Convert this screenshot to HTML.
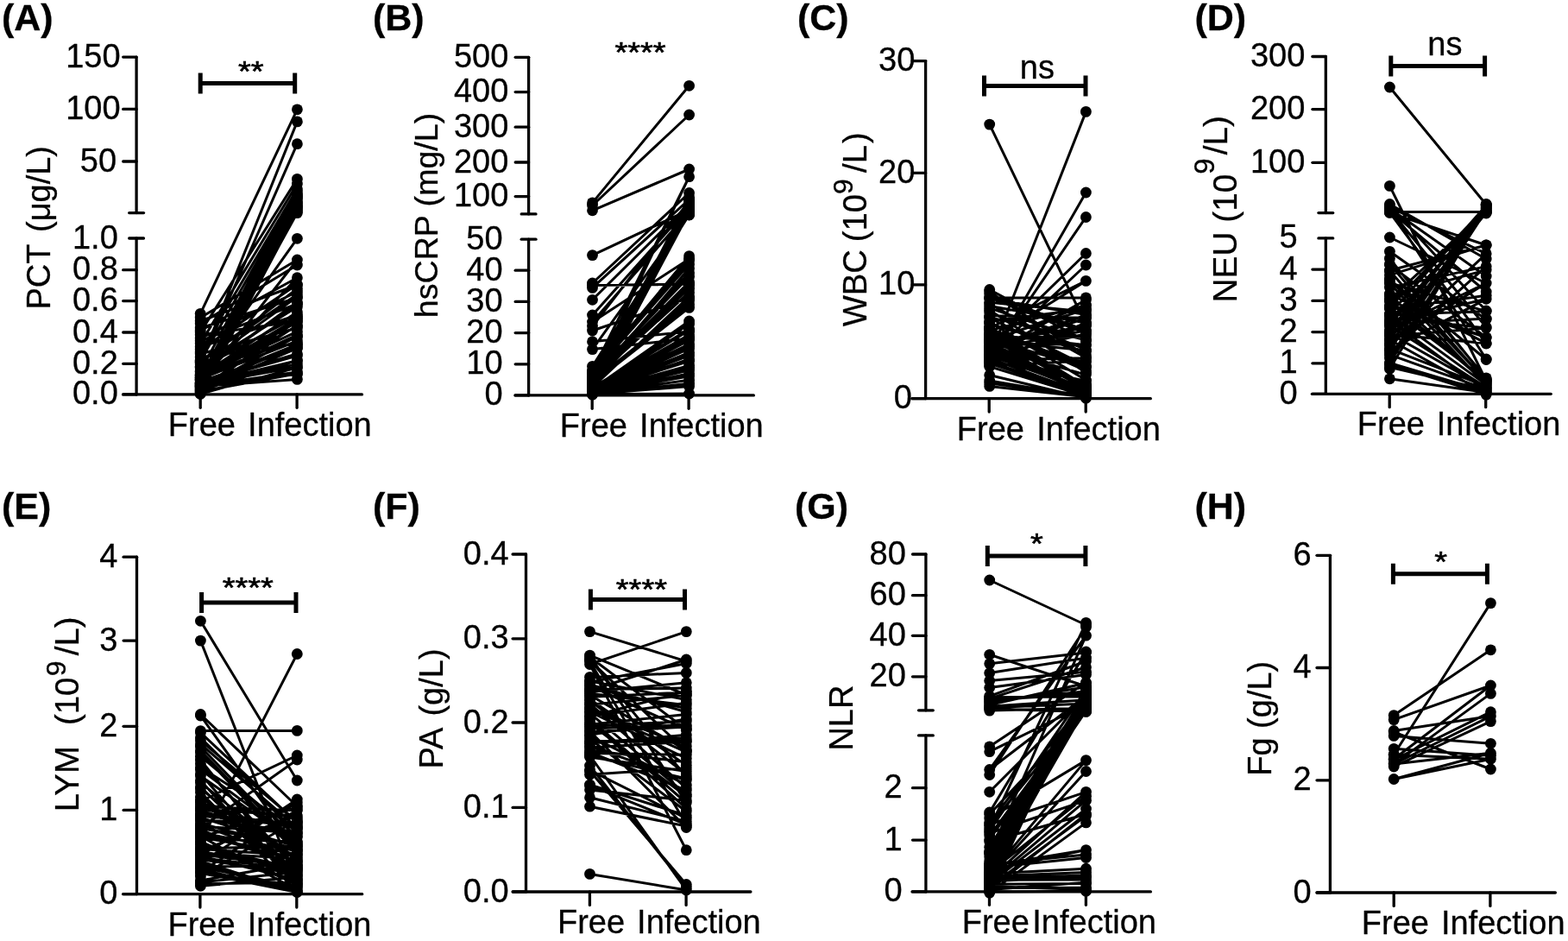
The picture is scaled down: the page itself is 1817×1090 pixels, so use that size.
<!DOCTYPE html>
<html lang="en"><head><meta charset="utf-8"><title>Paired comparison of inflammatory markers: Free vs Infection</title>
<style>
html,body{margin:0;padding:0;background:#fff;}
svg{display:block;font-family:"Liberation Sans",Arial,Helvetica,sans-serif;font-size:38px;}
svg text{fill:#000;stroke:#000;stroke-width:0.3px;}
svg line, svg path{stroke:#000;fill:none;}
.ax line{stroke-width:3.3;stroke-linecap:round;}
.sb{stroke-width:5;stroke-linecap:butt;}
.st{stroke:#000;stroke-width:0.7;}
.d path{stroke-width:3.0;stroke-linecap:round;}
svg circle{fill:#000;}
</style></head>
<body>
<svg width="1817" height="1090" viewBox="0 0 1817 1090">
<rect width="1817" height="1090" fill="#fff"/>
<g id="panelA">
<text class="yt" transform="translate(58,263.8) rotate(-90)" font-size="38" text-anchor="middle" xml:space="preserve" word-spacing="3.7">PCT (μg/L)</text>
<text x="2" y="35" font-size="43" font-weight="bold">(A)</text>
<g class="ax">
<line x1="158.1" y1="66.1" x2="158.1" y2="246.6"/>
<line x1="142.7" y1="66.1" x2="158.1" y2="66.1"/>
<line x1="142.7" y1="126.4" x2="158.1" y2="126.4"/>
<line x1="142.7" y1="187" x2="158.1" y2="187"/>
<line x1="149.7" y1="246.6" x2="166.5" y2="246.6"/>
<line x1="158.1" y1="276" x2="158.1" y2="456.9"/>
<line x1="142.7" y1="312.7" x2="158.1" y2="312.7"/>
<line x1="142.7" y1="348.6" x2="158.1" y2="348.6"/>
<line x1="142.7" y1="385" x2="158.1" y2="385"/>
<line x1="142.7" y1="421.3" x2="158.1" y2="421.3"/>
<line x1="142.7" y1="456.9" x2="158.1" y2="456.9"/>
<line x1="149.7" y1="276" x2="166.5" y2="276"/>
<line x1="142.6" y1="456.9" x2="419.5" y2="456.9"/>
<line x1="232.2" y1="456.9" x2="232.2" y2="472.3"/>
<line x1="344.1" y1="456.9" x2="344.1" y2="472.3"/>
</g>
<g class="tl" text-anchor="end">
<text x="139.6" y="77.6">150</text>
<text x="139.6" y="137.9">100</text>
<text x="135.1" y="198.5">50</text>
<text x="136.8" y="287.5">1.0</text>
<text x="136.8" y="324.2">0.8</text>
<text x="136.8" y="360.1">0.6</text>
<text x="136.8" y="396.5">0.4</text>
<text x="136.8" y="432.8">0.2</text>
<text x="136.8" y="468.4">0.0</text>
</g>
<g class="xl">
<text x="194.8" y="505">Free</text>
<text x="287.1" y="505">Infection</text>
</g>
<path class="sb" d="M232.2 84.4V108.4M232.2 96.4H341.7M341.7 84.4V108.4"/>
<text class="st" transform="translate(290.7,94.4) scale(1,0.85)" text-anchor="middle">**</text>
<g class="d">
<path d="M232.2 363.3L344.4 126.8M232.2 420L344.4 140.9M232.2 422L344.4 166.7M232.2 438L344.4 224.8M232.2 439.4L344.4 231M232.2 441.1L344.4 233.7M232.2 442.1L344.4 239.6M232.2 443.5L344.4 228M232.2 445L344.4 239M232.2 446L344.4 237M232.2 447.7L344.4 229M232.2 449.2L344.4 246.6M232.2 450.7L344.4 243M232.2 451.5L344.4 241M232.2 453.1L344.4 226M232.2 454.3L344.4 235M232.2 456.3L344.4 245M232.2 385L344.4 207.4M232.2 398L344.4 213M232.2 408L344.4 218.8M232.2 418L344.4 222M232.2 430L344.4 222M232.2 434L344.4 276.3M232.2 368L344.4 301M232.2 375L344.4 307M232.2 383L344.4 321.7M232.2 372L344.4 330M232.2 380L344.4 345M232.2 392L344.4 338M232.2 445L344.4 301M232.2 440L344.4 321.7M232.2 405L344.4 329.5M232.2 418.1L344.4 340.9M232.2 419.4L344.4 334.4M232.2 424.4L344.4 343.9M232.2 425.3L344.4 355.6M232.2 426.8L344.4 366.4M232.2 430.5L344.4 352.3M232.2 431.9L344.4 349.7M232.2 434.5L344.4 369.2M232.2 435L344.4 361.6M232.2 435.5L344.4 384.2M232.2 436.8L344.4 378M232.2 436.9L344.4 373M232.2 437.4L344.4 390.3M232.2 439L344.4 395M232.2 439.9L344.4 387.9M232.2 442.1L344.4 403.1M232.2 443.4L344.4 412.1M232.2 443.6L344.4 409.7M232.2 444.6L344.4 417.6M232.2 444.6L344.4 398.9M232.2 445.3L344.4 425.1M232.2 446.3L344.4 421.6M232.2 446.5L344.4 433.6M232.2 447.2L344.4 431.1M232.2 447.5L344.4 439.4M232.2 448.3L344.4 399.7M232.2 449.1L344.4 376.7M232.2 450.3L344.4 389.4M232.2 451.7L344.4 403.3M232.2 452.4L344.4 417.5M232.2 453.5L344.4 432.7M232.2 455.1L344.4 368.2M232.2 456.2L344.4 425.9M232.2 395L344.4 352M232.2 402L344.4 365M232.2 410L344.4 380M232.2 388L344.4 372M232.2 414L344.4 398"/>
<circle cx="232.2" cy="363.3" r="6.4"/><circle cx="344.4" cy="126.8" r="6.4"/><circle cx="232.2" cy="420" r="6.4"/><circle cx="344.4" cy="140.9" r="6.4"/><circle cx="232.2" cy="422" r="6.4"/><circle cx="344.4" cy="166.7" r="6.4"/><circle cx="232.2" cy="438" r="6.4"/><circle cx="344.4" cy="224.8" r="6.4"/><circle cx="232.2" cy="439.4" r="6.4"/><circle cx="344.4" cy="231" r="6.4"/><circle cx="232.2" cy="441.1" r="6.4"/><circle cx="344.4" cy="233.7" r="6.4"/><circle cx="232.2" cy="442.1" r="6.4"/><circle cx="344.4" cy="239.6" r="6.4"/><circle cx="232.2" cy="443.5" r="6.4"/><circle cx="344.4" cy="228" r="6.4"/><circle cx="232.2" cy="445" r="6.4"/><circle cx="344.4" cy="239" r="6.4"/><circle cx="232.2" cy="446" r="6.4"/><circle cx="344.4" cy="237" r="6.4"/><circle cx="232.2" cy="447.7" r="6.4"/><circle cx="344.4" cy="229" r="6.4"/><circle cx="232.2" cy="449.2" r="6.4"/><circle cx="344.4" cy="246.6" r="6.4"/><circle cx="232.2" cy="450.7" r="6.4"/><circle cx="344.4" cy="243" r="6.4"/><circle cx="232.2" cy="451.5" r="6.4"/><circle cx="344.4" cy="241" r="6.4"/><circle cx="232.2" cy="453.1" r="6.4"/><circle cx="344.4" cy="226" r="6.4"/><circle cx="232.2" cy="454.3" r="6.4"/><circle cx="344.4" cy="235" r="6.4"/><circle cx="232.2" cy="456.3" r="6.4"/><circle cx="344.4" cy="245" r="6.4"/><circle cx="232.2" cy="385" r="6.4"/><circle cx="344.4" cy="207.4" r="6.4"/><circle cx="232.2" cy="398" r="6.4"/><circle cx="344.4" cy="213" r="6.4"/><circle cx="232.2" cy="408" r="6.4"/><circle cx="344.4" cy="218.8" r="6.4"/><circle cx="232.2" cy="418" r="6.4"/><circle cx="344.4" cy="222" r="6.4"/><circle cx="232.2" cy="430" r="6.4"/><circle cx="232.2" cy="434" r="6.4"/><circle cx="344.4" cy="276.3" r="6.4"/><circle cx="232.2" cy="368" r="6.4"/><circle cx="344.4" cy="301" r="6.4"/><circle cx="232.2" cy="375" r="6.4"/><circle cx="344.4" cy="307" r="6.4"/><circle cx="232.2" cy="383" r="6.4"/><circle cx="344.4" cy="321.7" r="6.4"/><circle cx="232.2" cy="372" r="6.4"/><circle cx="344.4" cy="330" r="6.4"/><circle cx="232.2" cy="380" r="6.4"/><circle cx="344.4" cy="345" r="6.4"/><circle cx="232.2" cy="392" r="6.4"/><circle cx="344.4" cy="338" r="6.4"/><circle cx="232.2" cy="440" r="6.4"/><circle cx="232.2" cy="405" r="6.4"/><circle cx="344.4" cy="329.5" r="6.4"/><circle cx="232.2" cy="418.1" r="6.4"/><circle cx="344.4" cy="340.9" r="6.4"/><circle cx="232.2" cy="419.4" r="6.4"/><circle cx="344.4" cy="334.4" r="6.4"/><circle cx="232.2" cy="424.4" r="6.4"/><circle cx="344.4" cy="343.9" r="6.4"/><circle cx="232.2" cy="425.3" r="6.4"/><circle cx="344.4" cy="355.6" r="6.4"/><circle cx="232.2" cy="426.8" r="6.4"/><circle cx="344.4" cy="366.4" r="6.4"/><circle cx="232.2" cy="430.5" r="6.4"/><circle cx="344.4" cy="352.3" r="6.4"/><circle cx="232.2" cy="431.9" r="6.4"/><circle cx="344.4" cy="349.7" r="6.4"/><circle cx="232.2" cy="434.5" r="6.4"/><circle cx="344.4" cy="369.2" r="6.4"/><circle cx="232.2" cy="435" r="6.4"/><circle cx="344.4" cy="361.6" r="6.4"/><circle cx="232.2" cy="435.5" r="6.4"/><circle cx="344.4" cy="384.2" r="6.4"/><circle cx="232.2" cy="436.8" r="6.4"/><circle cx="344.4" cy="378" r="6.4"/><circle cx="232.2" cy="436.9" r="6.4"/><circle cx="344.4" cy="373" r="6.4"/><circle cx="232.2" cy="437.4" r="6.4"/><circle cx="344.4" cy="390.3" r="6.4"/><circle cx="232.2" cy="439" r="6.4"/><circle cx="344.4" cy="395" r="6.4"/><circle cx="232.2" cy="439.9" r="6.4"/><circle cx="344.4" cy="387.9" r="6.4"/><circle cx="344.4" cy="403.1" r="6.4"/><circle cx="232.2" cy="443.4" r="6.4"/><circle cx="344.4" cy="412.1" r="6.4"/><circle cx="232.2" cy="443.6" r="6.4"/><circle cx="344.4" cy="409.7" r="6.4"/><circle cx="232.2" cy="444.6" r="6.4"/><circle cx="344.4" cy="417.6" r="6.4"/><circle cx="344.4" cy="398.9" r="6.4"/><circle cx="232.2" cy="445.3" r="6.4"/><circle cx="344.4" cy="425.1" r="6.4"/><circle cx="232.2" cy="446.3" r="6.4"/><circle cx="344.4" cy="421.6" r="6.4"/><circle cx="232.2" cy="446.5" r="6.4"/><circle cx="344.4" cy="433.6" r="6.4"/><circle cx="232.2" cy="447.2" r="6.4"/><circle cx="344.4" cy="431.1" r="6.4"/><circle cx="232.2" cy="447.5" r="6.4"/><circle cx="344.4" cy="439.4" r="6.4"/><circle cx="232.2" cy="448.3" r="6.4"/><circle cx="344.4" cy="399.7" r="6.4"/><circle cx="232.2" cy="449.1" r="6.4"/><circle cx="344.4" cy="376.7" r="6.4"/><circle cx="232.2" cy="450.3" r="6.4"/><circle cx="344.4" cy="389.4" r="6.4"/><circle cx="232.2" cy="451.7" r="6.4"/><circle cx="344.4" cy="403.3" r="6.4"/><circle cx="232.2" cy="452.4" r="6.4"/><circle cx="344.4" cy="417.5" r="6.4"/><circle cx="232.2" cy="453.5" r="6.4"/><circle cx="344.4" cy="432.7" r="6.4"/><circle cx="232.2" cy="455.1" r="6.4"/><circle cx="344.4" cy="368.2" r="6.4"/><circle cx="232.2" cy="456.2" r="6.4"/><circle cx="344.4" cy="425.9" r="6.4"/><circle cx="232.2" cy="395" r="6.4"/><circle cx="344.4" cy="352" r="6.4"/><circle cx="232.2" cy="402" r="6.4"/><circle cx="344.4" cy="365" r="6.4"/><circle cx="232.2" cy="410" r="6.4"/><circle cx="344.4" cy="380" r="6.4"/><circle cx="232.2" cy="388" r="6.4"/><circle cx="344.4" cy="372" r="6.4"/><circle cx="232.2" cy="414" r="6.4"/><circle cx="344.4" cy="398" r="6.4"/>
</g>
</g>
<g id="panelB">
<text class="yt" transform="translate(506.9,249.5) rotate(-90)" font-size="37.6" text-anchor="middle" xml:space="preserve">hsCRP (mg/L)</text>
<text x="432" y="35" font-size="43" font-weight="bold">(B)</text>
<g class="ax">
<line x1="612.6" y1="66.3" x2="612.6" y2="247.9"/>
<line x1="597.2" y1="66.3" x2="612.6" y2="66.3"/>
<line x1="597.2" y1="106.6" x2="612.6" y2="106.6"/>
<line x1="597.2" y1="147.2" x2="612.6" y2="147.2"/>
<line x1="597.2" y1="188" x2="612.6" y2="188"/>
<line x1="597.2" y1="227.6" x2="612.6" y2="227.6"/>
<line x1="604.2" y1="247.9" x2="621" y2="247.9"/>
<line x1="612.6" y1="277.2" x2="612.6" y2="457.9"/>
<line x1="597.2" y1="313.2" x2="612.6" y2="313.2"/>
<line x1="597.2" y1="349.4" x2="612.6" y2="349.4"/>
<line x1="597.2" y1="385.6" x2="612.6" y2="385.6"/>
<line x1="597.2" y1="421.8" x2="612.6" y2="421.8"/>
<line x1="597.2" y1="457.9" x2="612.6" y2="457.9"/>
<line x1="604.2" y1="277.2" x2="621" y2="277.2"/>
<line x1="597" y1="457.9" x2="873.4" y2="457.9"/>
<line x1="686.2" y1="457.9" x2="686.2" y2="473.3"/>
<line x1="798.1" y1="457.9" x2="798.1" y2="473.3"/>
</g>
<g class="tl" text-anchor="end">
<text x="589.3" y="77.8">500</text>
<text x="589.3" y="118.1">400</text>
<text x="589.3" y="158.7">300</text>
<text x="589.3" y="199.5">200</text>
<text x="589.3" y="239.1">100</text>
<text x="582.6" y="288.7">50</text>
<text x="582.6" y="324.7">40</text>
<text x="582.6" y="360.9">30</text>
<text x="582.6" y="397.1">20</text>
<text x="582.6" y="433.3">10</text>
<text x="582.6" y="469.4">0</text>
</g>
<g class="xl">
<text x="648.8" y="506">Free</text>
<text x="741.1" y="506">Infection</text>
</g>
<text class="st" transform="translate(742,72.1) scale(1,0.85)" text-anchor="middle">****</text>
<g class="d">
<path d="M686.5 234.9L798.6 99.3M686.5 238L798.6 133M686.5 243.8L798.6 196M686.5 295.6L798.6 243M686.5 330.4L798.6 329M686.5 430L798.6 204.7M686.5 440L798.6 204.7M686.5 328L798.6 223.5M686.5 333.4L798.6 231M686.5 347.3L798.6 236M686.5 365L798.6 240M686.5 373L798.6 245M686.5 378L798.6 233M686.5 404.6L798.6 249M686.5 424.4L798.6 248.9M686.5 429.5L798.6 242.3M686.5 432.4L798.6 238.8M686.5 437.8L798.6 234.6M686.5 441.2L798.6 231.6M686.5 444.5L798.6 243.8M686.5 448.2L798.6 228.6M686.5 453.5L798.6 236.8M686.5 456L798.6 246M686.5 395.7L798.6 384M686.5 404.6L798.6 392M686.5 373L798.6 300M686.5 383L798.6 345M686.5 431.7L798.6 296.6M686.5 431.8L798.6 301.2M686.5 433.3L798.6 305.9M686.5 436.9L798.6 315.9M686.5 437L798.6 320.2M686.5 437.5L798.6 334.2M686.5 439.5L798.6 326.6M686.5 440.3L798.6 338.7M686.5 441.1L798.6 310.8M686.5 441.8L798.6 352.5M686.5 443.9L798.6 330.4M686.5 444.2L798.6 356.4M686.5 446.1L798.6 348M686.5 448.6L798.6 343.5M686.5 449.1L798.6 381.2M686.5 450.4L798.6 382.6M686.5 450.7L798.6 372M686.5 451L798.6 375.3M686.5 451.2L798.6 387.8M686.5 451.6L798.6 400.9M686.5 451.9L798.6 391M686.5 452.4L798.6 398.6M686.5 453.1L798.6 408.5M686.5 453.3L798.6 394.1M686.5 453.8L798.6 418.4M686.5 454L798.6 403.8M686.5 454.1L798.6 411.8M686.5 454.8L798.6 423.4M686.5 454.9L798.6 415.9M686.5 454.9L798.6 425.9M686.5 455.2L798.6 428.7M686.5 455.2L798.6 440.3M686.5 455.6L798.6 435.8M686.5 456.1L798.6 432.7M686.5 456.2L798.6 447.6M686.5 456.4L798.6 444.2M686.5 456.5L798.6 456M686.5 457.1L798.6 456"/>
<circle cx="686.5" cy="234.9" r="6.4"/><circle cx="798.6" cy="99.3" r="6.4"/><circle cx="686.5" cy="238" r="6.4"/><circle cx="798.6" cy="133" r="6.4"/><circle cx="686.5" cy="243.8" r="6.4"/><circle cx="798.6" cy="196" r="6.4"/><circle cx="686.5" cy="295.6" r="6.4"/><circle cx="798.6" cy="243" r="6.4"/><circle cx="686.5" cy="330.4" r="6.4"/><circle cx="798.6" cy="329" r="6.4"/><circle cx="686.5" cy="430" r="6.4"/><circle cx="798.6" cy="204.7" r="6.4"/><circle cx="686.5" cy="440" r="6.4"/><circle cx="686.5" cy="328" r="6.4"/><circle cx="798.6" cy="223.5" r="6.4"/><circle cx="686.5" cy="333.4" r="6.4"/><circle cx="798.6" cy="231" r="6.4"/><circle cx="686.5" cy="347.3" r="6.4"/><circle cx="798.6" cy="236" r="6.4"/><circle cx="686.5" cy="365" r="6.4"/><circle cx="798.6" cy="240" r="6.4"/><circle cx="686.5" cy="373" r="6.4"/><circle cx="798.6" cy="245" r="6.4"/><circle cx="686.5" cy="378" r="6.4"/><circle cx="798.6" cy="233" r="6.4"/><circle cx="686.5" cy="404.6" r="6.4"/><circle cx="798.6" cy="249" r="6.4"/><circle cx="686.5" cy="424.4" r="6.4"/><circle cx="798.6" cy="248.9" r="6.4"/><circle cx="686.5" cy="429.5" r="6.4"/><circle cx="798.6" cy="242.3" r="6.4"/><circle cx="686.5" cy="432.4" r="6.4"/><circle cx="798.6" cy="238.8" r="6.4"/><circle cx="686.5" cy="437.8" r="6.4"/><circle cx="798.6" cy="234.6" r="6.4"/><circle cx="686.5" cy="441.2" r="6.4"/><circle cx="798.6" cy="231.6" r="6.4"/><circle cx="686.5" cy="444.5" r="6.4"/><circle cx="798.6" cy="243.8" r="6.4"/><circle cx="686.5" cy="448.2" r="6.4"/><circle cx="798.6" cy="228.6" r="6.4"/><circle cx="686.5" cy="453.5" r="6.4"/><circle cx="798.6" cy="236.8" r="6.4"/><circle cx="686.5" cy="456" r="6.4"/><circle cx="798.6" cy="246" r="6.4"/><circle cx="686.5" cy="395.7" r="6.4"/><circle cx="798.6" cy="384" r="6.4"/><circle cx="798.6" cy="392" r="6.4"/><circle cx="798.6" cy="300" r="6.4"/><circle cx="686.5" cy="383" r="6.4"/><circle cx="798.6" cy="345" r="6.4"/><circle cx="686.5" cy="431.7" r="6.4"/><circle cx="798.6" cy="296.6" r="6.4"/><circle cx="686.5" cy="431.8" r="6.4"/><circle cx="798.6" cy="301.2" r="6.4"/><circle cx="686.5" cy="433.3" r="6.4"/><circle cx="798.6" cy="305.9" r="6.4"/><circle cx="686.5" cy="436.9" r="6.4"/><circle cx="798.6" cy="315.9" r="6.4"/><circle cx="686.5" cy="437" r="6.4"/><circle cx="798.6" cy="320.2" r="6.4"/><circle cx="686.5" cy="437.5" r="6.4"/><circle cx="798.6" cy="334.2" r="6.4"/><circle cx="686.5" cy="439.5" r="6.4"/><circle cx="798.6" cy="326.6" r="6.4"/><circle cx="686.5" cy="440.3" r="6.4"/><circle cx="798.6" cy="338.7" r="6.4"/><circle cx="686.5" cy="441.1" r="6.4"/><circle cx="798.6" cy="310.8" r="6.4"/><circle cx="686.5" cy="441.8" r="6.4"/><circle cx="798.6" cy="352.5" r="6.4"/><circle cx="686.5" cy="443.9" r="6.4"/><circle cx="798.6" cy="330.4" r="6.4"/><circle cx="686.5" cy="444.2" r="6.4"/><circle cx="798.6" cy="356.4" r="6.4"/><circle cx="686.5" cy="446.1" r="6.4"/><circle cx="798.6" cy="348" r="6.4"/><circle cx="686.5" cy="448.6" r="6.4"/><circle cx="798.6" cy="343.5" r="6.4"/><circle cx="686.5" cy="449.1" r="6.4"/><circle cx="798.6" cy="381.2" r="6.4"/><circle cx="686.5" cy="450.4" r="6.4"/><circle cx="798.6" cy="382.6" r="6.4"/><circle cx="686.5" cy="450.7" r="6.4"/><circle cx="798.6" cy="372" r="6.4"/><circle cx="686.5" cy="451" r="6.4"/><circle cx="798.6" cy="375.3" r="6.4"/><circle cx="686.5" cy="451.2" r="6.4"/><circle cx="798.6" cy="387.8" r="6.4"/><circle cx="686.5" cy="451.6" r="6.4"/><circle cx="798.6" cy="400.9" r="6.4"/><circle cx="686.5" cy="451.9" r="6.4"/><circle cx="798.6" cy="391" r="6.4"/><circle cx="686.5" cy="452.4" r="6.4"/><circle cx="798.6" cy="398.6" r="6.4"/><circle cx="686.5" cy="453.1" r="6.4"/><circle cx="798.6" cy="408.5" r="6.4"/><circle cx="686.5" cy="453.3" r="6.4"/><circle cx="798.6" cy="394.1" r="6.4"/><circle cx="686.5" cy="453.8" r="6.4"/><circle cx="798.6" cy="418.4" r="6.4"/><circle cx="686.5" cy="454" r="6.4"/><circle cx="798.6" cy="403.8" r="6.4"/><circle cx="686.5" cy="454.1" r="6.4"/><circle cx="798.6" cy="411.8" r="6.4"/><circle cx="686.5" cy="454.8" r="6.4"/><circle cx="798.6" cy="423.4" r="6.4"/><circle cx="686.5" cy="454.9" r="6.4"/><circle cx="798.6" cy="415.9" r="6.4"/><circle cx="798.6" cy="425.9" r="6.4"/><circle cx="686.5" cy="455.2" r="6.4"/><circle cx="798.6" cy="428.7" r="6.4"/><circle cx="798.6" cy="440.3" r="6.4"/><circle cx="686.5" cy="455.6" r="6.4"/><circle cx="798.6" cy="435.8" r="6.4"/><circle cx="686.5" cy="456.1" r="6.4"/><circle cx="798.6" cy="432.7" r="6.4"/><circle cx="686.5" cy="456.2" r="6.4"/><circle cx="798.6" cy="447.6" r="6.4"/><circle cx="686.5" cy="456.4" r="6.4"/><circle cx="798.6" cy="444.2" r="6.4"/><circle cx="686.5" cy="456.5" r="6.4"/><circle cx="798.6" cy="456" r="6.4"/><circle cx="686.5" cy="457.1" r="6.4"/>
</g>
</g>
<g id="panelC">
<text class="yt" transform="translate(1004,265.8) rotate(-90)" font-size="38.3" text-anchor="middle" xml:space="preserve">WBC <tspan dx="-2">(10</tspan><tspan dy="-15.7" dx="0" font-size="32">9</tspan><tspan dy="15.7" dx="-3.4"> /L</tspan><tspan dx="2">)</tspan></text>
<text x="924" y="35" font-size="43" font-weight="bold">(C)</text>
<g class="ax">
<line x1="1072.6" y1="70.6" x2="1072.6" y2="461.7"/>
<line x1="1057.2" y1="70.6" x2="1072.6" y2="70.6"/>
<line x1="1057.2" y1="200.4" x2="1072.6" y2="200.4"/>
<line x1="1057.2" y1="329.9" x2="1072.6" y2="329.9"/>
<line x1="1057.2" y1="461.7" x2="1072.6" y2="461.7"/>
<line x1="1057" y1="461.7" x2="1333.3" y2="461.7"/>
<line x1="1146.2" y1="461.7" x2="1146.2" y2="477.1"/>
<line x1="1258.2" y1="461.7" x2="1258.2" y2="477.1"/>
</g>
<g class="tl" text-anchor="end">
<text x="1060.3" y="82.1">30</text>
<text x="1060.3" y="211.9">20</text>
<text x="1060.3" y="341.4">10</text>
<text x="1056.8" y="473.2">0</text>
</g>
<g class="xl">
<text x="1108.8" y="509.8">Free</text>
<text x="1201.2" y="509.8">Infection</text>
</g>
<path class="sb" d="M1140.5 87.5V111.5M1140.5 99.5H1258M1258 87.5V111.5"/>
<text x="1201.9" y="91.3" text-anchor="middle">ns</text>
<g class="d">
<path d="M1146.7 144.1L1258.4 376M1146.7 413.8L1258.4 129.4M1146.7 417.8L1258.4 223M1146.7 414.9L1258.4 251.5M1146.7 402.4L1258.4 293.5M1146.7 411.3L1258.4 307M1146.7 395L1258.4 325.4M1146.7 380L1258.4 325.4M1146.7 344.9L1258.4 344.9M1146.7 335.5L1258.4 395M1146.7 338L1258.4 412M1146.7 341L1258.4 383M1146.7 379L1258.4 447.3M1146.7 379.9L1258.4 448.3M1146.7 382.5L1258.4 449.5M1146.7 386.1L1258.4 448.9M1146.7 389L1258.4 446M1146.7 391.1L1258.4 450.2M1146.7 393.2L1258.4 446.9M1146.7 396.1L1258.4 454M1146.7 400.2L1258.4 452.4M1146.7 401.6L1258.4 455.3M1146.7 405.3L1258.4 451.2M1146.7 408.1L1258.4 454.4M1146.7 410.3L1258.4 453M1146.7 411.9L1258.4 451.7M1146.7 415L1258.4 456.1M1146.7 418.8L1258.4 457.6M1146.7 421L1258.4 456.7M1146.7 424.6L1258.4 458.8M1146.7 434.5L1258.4 461.2M1146.7 441L1258.4 460.1M1146.7 444L1258.4 458.1M1146.7 447.4L1258.4 459.8M1146.7 346.1L1258.4 364.5M1146.7 350.2L1258.4 361.1M1146.7 354.6L1258.4 374.1M1146.7 356.9L1258.4 394.1M1146.7 362.1L1258.4 404.7M1146.7 365.5L1258.4 368.3M1146.7 368.1L1258.4 423.8M1146.7 372.2L1258.4 357.7M1146.7 375.2L1258.4 407.4M1146.7 380.1L1258.4 429.4M1146.7 382.9L1258.4 353.6M1146.7 386.9L1258.4 399.8M1146.7 390.8L1258.4 390.1M1146.7 393.5L1258.4 425.2M1146.7 397.5L1258.4 377.5M1146.7 402L1258.4 434.1M1146.7 404.8L1258.4 382.7M1146.7 407.3L1258.4 443.9M1146.7 412L1258.4 386.7M1146.7 416.9L1258.4 414.8M1146.7 418.6L1258.4 441.1M1146.7 423.5L1258.4 417.9M1146.7 345L1258.4 385.7M1146.7 351.9L1258.4 414.5M1146.7 359.2L1258.4 431.6M1146.7 367.6L1258.4 393.7M1146.7 373.2L1258.4 440.2M1146.7 380.6L1258.4 424.7M1146.7 387.4L1258.4 419.6M1146.7 395.2L1258.4 405.8M1146.7 397.4L1258.4 399.4M1146.7 393.6L1258.4 358.4M1146.7 395.8L1258.4 353.4M1146.7 403.1L1258.4 365.2M1146.7 405.8L1258.4 368.5M1146.7 410.4L1258.4 347.4M1146.7 418.6L1258.4 376.8M1146.7 420.5L1258.4 374"/>
<circle cx="1146.7" cy="144.1" r="6.4"/><circle cx="1258.4" cy="376" r="6.4"/><circle cx="1146.7" cy="413.8" r="6.4"/><circle cx="1258.4" cy="129.4" r="6.4"/><circle cx="1146.7" cy="417.8" r="6.4"/><circle cx="1258.4" cy="223" r="6.4"/><circle cx="1146.7" cy="414.9" r="6.4"/><circle cx="1258.4" cy="251.5" r="6.4"/><circle cx="1146.7" cy="402.4" r="6.4"/><circle cx="1258.4" cy="293.5" r="6.4"/><circle cx="1146.7" cy="411.3" r="6.4"/><circle cx="1258.4" cy="307" r="6.4"/><circle cx="1146.7" cy="395" r="6.4"/><circle cx="1258.4" cy="325.4" r="6.4"/><circle cx="1146.7" cy="380" r="6.4"/><circle cx="1146.7" cy="344.9" r="6.4"/><circle cx="1258.4" cy="344.9" r="6.4"/><circle cx="1146.7" cy="335.5" r="6.4"/><circle cx="1258.4" cy="395" r="6.4"/><circle cx="1146.7" cy="338" r="6.4"/><circle cx="1258.4" cy="412" r="6.4"/><circle cx="1146.7" cy="341" r="6.4"/><circle cx="1258.4" cy="383" r="6.4"/><circle cx="1146.7" cy="379" r="6.4"/><circle cx="1258.4" cy="447.3" r="6.4"/><circle cx="1146.7" cy="379.9" r="6.4"/><circle cx="1258.4" cy="448.3" r="6.4"/><circle cx="1146.7" cy="382.5" r="6.4"/><circle cx="1258.4" cy="449.5" r="6.4"/><circle cx="1146.7" cy="386.1" r="6.4"/><circle cx="1258.4" cy="448.9" r="6.4"/><circle cx="1146.7" cy="389" r="6.4"/><circle cx="1258.4" cy="446" r="6.4"/><circle cx="1146.7" cy="391.1" r="6.4"/><circle cx="1258.4" cy="450.2" r="6.4"/><circle cx="1146.7" cy="393.2" r="6.4"/><circle cx="1258.4" cy="446.9" r="6.4"/><circle cx="1146.7" cy="396.1" r="6.4"/><circle cx="1258.4" cy="454" r="6.4"/><circle cx="1146.7" cy="400.2" r="6.4"/><circle cx="1258.4" cy="452.4" r="6.4"/><circle cx="1146.7" cy="401.6" r="6.4"/><circle cx="1258.4" cy="455.3" r="6.4"/><circle cx="1146.7" cy="405.3" r="6.4"/><circle cx="1258.4" cy="451.2" r="6.4"/><circle cx="1146.7" cy="408.1" r="6.4"/><circle cx="1258.4" cy="454.4" r="6.4"/><circle cx="1146.7" cy="410.3" r="6.4"/><circle cx="1258.4" cy="453" r="6.4"/><circle cx="1146.7" cy="411.9" r="6.4"/><circle cx="1258.4" cy="451.7" r="6.4"/><circle cx="1146.7" cy="415" r="6.4"/><circle cx="1258.4" cy="456.1" r="6.4"/><circle cx="1146.7" cy="418.8" r="6.4"/><circle cx="1258.4" cy="457.6" r="6.4"/><circle cx="1146.7" cy="421" r="6.4"/><circle cx="1258.4" cy="456.7" r="6.4"/><circle cx="1146.7" cy="424.6" r="6.4"/><circle cx="1258.4" cy="458.8" r="6.4"/><circle cx="1146.7" cy="434.5" r="6.4"/><circle cx="1258.4" cy="461.2" r="6.4"/><circle cx="1146.7" cy="441" r="6.4"/><circle cx="1258.4" cy="460.1" r="6.4"/><circle cx="1146.7" cy="444" r="6.4"/><circle cx="1258.4" cy="458.1" r="6.4"/><circle cx="1146.7" cy="447.4" r="6.4"/><circle cx="1258.4" cy="459.8" r="6.4"/><circle cx="1146.7" cy="346.1" r="6.4"/><circle cx="1258.4" cy="364.5" r="6.4"/><circle cx="1146.7" cy="350.2" r="6.4"/><circle cx="1258.4" cy="361.1" r="6.4"/><circle cx="1146.7" cy="354.6" r="6.4"/><circle cx="1258.4" cy="374.1" r="6.4"/><circle cx="1146.7" cy="356.9" r="6.4"/><circle cx="1258.4" cy="394.1" r="6.4"/><circle cx="1146.7" cy="362.1" r="6.4"/><circle cx="1258.4" cy="404.7" r="6.4"/><circle cx="1146.7" cy="365.5" r="6.4"/><circle cx="1258.4" cy="368.3" r="6.4"/><circle cx="1146.7" cy="368.1" r="6.4"/><circle cx="1258.4" cy="423.8" r="6.4"/><circle cx="1146.7" cy="372.2" r="6.4"/><circle cx="1258.4" cy="357.7" r="6.4"/><circle cx="1146.7" cy="375.2" r="6.4"/><circle cx="1258.4" cy="407.4" r="6.4"/><circle cx="1146.7" cy="380.1" r="6.4"/><circle cx="1258.4" cy="429.4" r="6.4"/><circle cx="1146.7" cy="382.9" r="6.4"/><circle cx="1258.4" cy="353.6" r="6.4"/><circle cx="1146.7" cy="386.9" r="6.4"/><circle cx="1258.4" cy="399.8" r="6.4"/><circle cx="1146.7" cy="390.8" r="6.4"/><circle cx="1258.4" cy="390.1" r="6.4"/><circle cx="1146.7" cy="393.5" r="6.4"/><circle cx="1258.4" cy="425.2" r="6.4"/><circle cx="1146.7" cy="397.5" r="6.4"/><circle cx="1258.4" cy="377.5" r="6.4"/><circle cx="1146.7" cy="402" r="6.4"/><circle cx="1258.4" cy="434.1" r="6.4"/><circle cx="1146.7" cy="404.8" r="6.4"/><circle cx="1258.4" cy="382.7" r="6.4"/><circle cx="1146.7" cy="407.3" r="6.4"/><circle cx="1258.4" cy="443.9" r="6.4"/><circle cx="1146.7" cy="412" r="6.4"/><circle cx="1258.4" cy="386.7" r="6.4"/><circle cx="1146.7" cy="416.9" r="6.4"/><circle cx="1258.4" cy="414.8" r="6.4"/><circle cx="1146.7" cy="418.6" r="6.4"/><circle cx="1258.4" cy="441.1" r="6.4"/><circle cx="1146.7" cy="423.5" r="6.4"/><circle cx="1258.4" cy="417.9" r="6.4"/><circle cx="1146.7" cy="345" r="6.4"/><circle cx="1258.4" cy="385.7" r="6.4"/><circle cx="1146.7" cy="351.9" r="6.4"/><circle cx="1258.4" cy="414.5" r="6.4"/><circle cx="1146.7" cy="359.2" r="6.4"/><circle cx="1258.4" cy="431.6" r="6.4"/><circle cx="1146.7" cy="367.6" r="6.4"/><circle cx="1258.4" cy="393.7" r="6.4"/><circle cx="1146.7" cy="373.2" r="6.4"/><circle cx="1258.4" cy="440.2" r="6.4"/><circle cx="1146.7" cy="380.6" r="6.4"/><circle cx="1258.4" cy="424.7" r="6.4"/><circle cx="1146.7" cy="387.4" r="6.4"/><circle cx="1258.4" cy="419.6" r="6.4"/><circle cx="1146.7" cy="395.2" r="6.4"/><circle cx="1258.4" cy="405.8" r="6.4"/><circle cx="1146.7" cy="397.4" r="6.4"/><circle cx="1258.4" cy="399.4" r="6.4"/><circle cx="1146.7" cy="393.6" r="6.4"/><circle cx="1258.4" cy="358.4" r="6.4"/><circle cx="1146.7" cy="395.8" r="6.4"/><circle cx="1258.4" cy="353.4" r="6.4"/><circle cx="1146.7" cy="403.1" r="6.4"/><circle cx="1258.4" cy="365.2" r="6.4"/><circle cx="1146.7" cy="405.8" r="6.4"/><circle cx="1258.4" cy="368.5" r="6.4"/><circle cx="1146.7" cy="410.4" r="6.4"/><circle cx="1258.4" cy="347.4" r="6.4"/><circle cx="1258.4" cy="376.8" r="6.4"/><circle cx="1146.7" cy="420.5" r="6.4"/><circle cx="1258.4" cy="374" r="6.4"/>
</g>
</g>
<g id="panelD">
<text class="yt" transform="translate(1432.6,242.2) rotate(-90)" font-size="38.8" text-anchor="middle" xml:space="preserve">NEU <tspan dx="0">(10</tspan><tspan dy="-25.5" dx="0" font-size="33">9</tspan><tspan dy="14.5" dx="4">/L</tspan><tspan dx="0">)</tspan></text>
<text x="1384.5" y="35" font-size="43" font-weight="bold">(D)</text>
<g class="ax">
<line x1="1536.3" y1="65.5" x2="1536.3" y2="246.6"/>
<line x1="1520.9" y1="65.5" x2="1536.3" y2="65.5"/>
<line x1="1520.9" y1="126.6" x2="1536.3" y2="126.6"/>
<line x1="1520.9" y1="188.3" x2="1536.3" y2="188.3"/>
<line x1="1527.9" y1="246.6" x2="1544.7" y2="246.6"/>
<line x1="1536.3" y1="275.9" x2="1536.3" y2="456.3"/>
<line x1="1520.9" y1="312.1" x2="1536.3" y2="312.1"/>
<line x1="1520.9" y1="348.4" x2="1536.3" y2="348.4"/>
<line x1="1520.9" y1="384.6" x2="1536.3" y2="384.6"/>
<line x1="1520.9" y1="420.8" x2="1536.3" y2="420.8"/>
<line x1="1520.9" y1="456.3" x2="1536.3" y2="456.3"/>
<line x1="1527.9" y1="275.9" x2="1544.7" y2="275.9"/>
<line x1="1520.4" y1="456.3" x2="1797.2" y2="456.3"/>
<line x1="1610.2" y1="456.3" x2="1610.2" y2="471.7"/>
<line x1="1721.7" y1="456.3" x2="1721.7" y2="471.7"/>
</g>
<g class="tl" text-anchor="end">
<text x="1512.3" y="77">300</text>
<text x="1512.3" y="138.1">200</text>
<text x="1512.3" y="199.8">100</text>
<text x="1503.6" y="287.4">5</text>
<text x="1503.6" y="323.6">4</text>
<text x="1503.6" y="359.9">3</text>
<text x="1503.6" y="396.1">2</text>
<text x="1503.6" y="432.3">1</text>
<text x="1503.6" y="467.8">0</text>
</g>
<g class="xl">
<text x="1572.8" y="504.4">Free</text>
<text x="1664.7" y="504.4">Infection</text>
</g>
<path class="sb" d="M1611.8 64.5V88.5M1611.8 76.5H1720.6M1720.6 64.5V88.5"/>
<text x="1674.4" y="63.9" text-anchor="middle">ns</text>
<g class="d">
<path d="M1610.4 101L1722.2 237M1610.4 215.4L1722.2 441M1610.4 245.6L1722.2 245.6M1610.4 236.5L1722.2 300M1610.4 241.4L1722.2 320M1610.4 246.4L1722.2 284M1610.4 240L1722.2 293.8M1610.4 244L1722.2 338M1610.4 238L1722.2 360M1610.4 243L1722.2 379M1610.4 246L1722.2 398M1610.4 241L1722.2 416M1610.4 275L1722.2 328M1610.4 291.3L1722.2 370M1610.4 306.7L1722.2 391M1610.4 347.1L1722.2 243.2M1610.4 353.7L1722.2 247M1610.4 355.7L1722.2 240M1610.4 364L1722.2 238M1610.4 371.5L1722.2 244.7M1610.4 376.6L1722.2 241.9M1610.4 383.8L1722.2 237.2M1610.4 387.6L1722.2 246.2M1610.4 393.3L1722.2 245.3M1610.4 399.8L1722.2 236.3M1610.4 405.7L1722.2 240.7M1610.4 414.6L1722.2 243.8M1610.4 420.8L1722.2 239.1M1610.4 427.3L1722.2 241.2M1610.4 299.4L1722.2 439.3M1610.4 305.9L1722.2 437.8M1610.4 313.5L1722.2 442.4M1610.4 323.4L1722.2 441.3M1610.4 328.1L1722.2 446.6M1610.4 341.4L1722.2 444.6M1610.4 348.6L1722.2 443.2M1610.4 355.8L1722.2 440.3M1610.4 364.5L1722.2 445.6M1610.4 370.9L1722.2 452.7M1610.4 377.3L1722.2 448.7M1610.4 386.3L1722.2 449.6M1610.4 393.5L1722.2 455.9M1610.4 404.2L1722.2 447.7M1610.4 410.9L1722.2 450.8M1610.4 420.5L1722.2 453.8M1610.4 422L1722.2 457.1M1610.4 425.4L1722.2 451.5M1610.4 438.8L1722.2 454.6M1610.4 313.3L1722.2 283.9M1610.4 318.6L1722.2 283.9M1610.4 324L1722.2 416.5M1610.4 327.7L1722.2 360.6M1610.4 333.1L1722.2 308.6M1610.4 340.3L1722.2 397.7M1610.4 343.7L1722.2 312.6M1610.4 348.3L1722.2 390.8M1610.4 354.8L1722.2 390.8M1610.4 358L1722.2 342.3M1610.4 364.4L1722.2 360.6M1610.4 367.8L1722.2 379.9M1610.4 373.2L1722.2 346.3M1610.4 375.1L1722.2 369M1610.4 381.9L1722.2 328M1610.4 387.2L1722.2 397.7M1610.4 389.3L1722.2 379.9M1610.4 397.4L1722.2 328M1610.4 399.2L1722.2 293.8M1610.4 405.1L1722.2 346.3M1610.4 408.7L1722.2 308.6"/>
<circle cx="1610.4" cy="101" r="6.4"/><circle cx="1722.2" cy="237" r="6.4"/><circle cx="1610.4" cy="215.4" r="6.4"/><circle cx="1722.2" cy="441" r="6.4"/><circle cx="1610.4" cy="245.6" r="6.4"/><circle cx="1722.2" cy="245.6" r="6.4"/><circle cx="1610.4" cy="236.5" r="6.4"/><circle cx="1722.2" cy="300" r="6.4"/><circle cx="1610.4" cy="241.4" r="6.4"/><circle cx="1722.2" cy="320" r="6.4"/><circle cx="1610.4" cy="246.4" r="6.4"/><circle cx="1722.2" cy="284" r="6.4"/><circle cx="1610.4" cy="240" r="6.4"/><circle cx="1722.2" cy="293.8" r="6.4"/><circle cx="1610.4" cy="244" r="6.4"/><circle cx="1722.2" cy="338" r="6.4"/><circle cx="1610.4" cy="238" r="6.4"/><circle cx="1722.2" cy="360" r="6.4"/><circle cx="1610.4" cy="243" r="6.4"/><circle cx="1722.2" cy="379" r="6.4"/><circle cx="1610.4" cy="246" r="6.4"/><circle cx="1722.2" cy="398" r="6.4"/><circle cx="1610.4" cy="241" r="6.4"/><circle cx="1722.2" cy="416" r="6.4"/><circle cx="1610.4" cy="275" r="6.4"/><circle cx="1722.2" cy="328" r="6.4"/><circle cx="1610.4" cy="291.3" r="6.4"/><circle cx="1722.2" cy="370" r="6.4"/><circle cx="1610.4" cy="306.7" r="6.4"/><circle cx="1722.2" cy="391" r="6.4"/><circle cx="1610.4" cy="347.1" r="6.4"/><circle cx="1722.2" cy="243.2" r="6.4"/><circle cx="1610.4" cy="353.7" r="6.4"/><circle cx="1722.2" cy="247" r="6.4"/><circle cx="1610.4" cy="355.7" r="6.4"/><circle cx="1722.2" cy="240" r="6.4"/><circle cx="1610.4" cy="364" r="6.4"/><circle cx="1722.2" cy="238" r="6.4"/><circle cx="1610.4" cy="371.5" r="6.4"/><circle cx="1722.2" cy="244.7" r="6.4"/><circle cx="1610.4" cy="376.6" r="6.4"/><circle cx="1722.2" cy="241.9" r="6.4"/><circle cx="1610.4" cy="383.8" r="6.4"/><circle cx="1722.2" cy="237.2" r="6.4"/><circle cx="1610.4" cy="387.6" r="6.4"/><circle cx="1722.2" cy="246.2" r="6.4"/><circle cx="1610.4" cy="393.3" r="6.4"/><circle cx="1722.2" cy="245.3" r="6.4"/><circle cx="1610.4" cy="399.8" r="6.4"/><circle cx="1722.2" cy="236.3" r="6.4"/><circle cx="1610.4" cy="405.7" r="6.4"/><circle cx="1722.2" cy="240.7" r="6.4"/><circle cx="1610.4" cy="414.6" r="6.4"/><circle cx="1722.2" cy="243.8" r="6.4"/><circle cx="1610.4" cy="420.8" r="6.4"/><circle cx="1722.2" cy="239.1" r="6.4"/><circle cx="1610.4" cy="427.3" r="6.4"/><circle cx="1722.2" cy="241.2" r="6.4"/><circle cx="1610.4" cy="299.4" r="6.4"/><circle cx="1722.2" cy="439.3" r="6.4"/><circle cx="1610.4" cy="305.9" r="6.4"/><circle cx="1722.2" cy="437.8" r="6.4"/><circle cx="1610.4" cy="313.5" r="6.4"/><circle cx="1722.2" cy="442.4" r="6.4"/><circle cx="1610.4" cy="323.4" r="6.4"/><circle cx="1722.2" cy="441.3" r="6.4"/><circle cx="1610.4" cy="328.1" r="6.4"/><circle cx="1722.2" cy="446.6" r="6.4"/><circle cx="1610.4" cy="341.4" r="6.4"/><circle cx="1722.2" cy="444.6" r="6.4"/><circle cx="1610.4" cy="348.6" r="6.4"/><circle cx="1722.2" cy="443.2" r="6.4"/><circle cx="1610.4" cy="355.8" r="6.4"/><circle cx="1722.2" cy="440.3" r="6.4"/><circle cx="1610.4" cy="364.5" r="6.4"/><circle cx="1722.2" cy="445.6" r="6.4"/><circle cx="1610.4" cy="370.9" r="6.4"/><circle cx="1722.2" cy="452.7" r="6.4"/><circle cx="1610.4" cy="377.3" r="6.4"/><circle cx="1722.2" cy="448.7" r="6.4"/><circle cx="1610.4" cy="386.3" r="6.4"/><circle cx="1722.2" cy="449.6" r="6.4"/><circle cx="1610.4" cy="393.5" r="6.4"/><circle cx="1722.2" cy="455.9" r="6.4"/><circle cx="1610.4" cy="404.2" r="6.4"/><circle cx="1722.2" cy="447.7" r="6.4"/><circle cx="1610.4" cy="410.9" r="6.4"/><circle cx="1722.2" cy="450.8" r="6.4"/><circle cx="1610.4" cy="420.5" r="6.4"/><circle cx="1722.2" cy="453.8" r="6.4"/><circle cx="1610.4" cy="422" r="6.4"/><circle cx="1722.2" cy="457.1" r="6.4"/><circle cx="1610.4" cy="425.4" r="6.4"/><circle cx="1722.2" cy="451.5" r="6.4"/><circle cx="1610.4" cy="438.8" r="6.4"/><circle cx="1722.2" cy="454.6" r="6.4"/><circle cx="1610.4" cy="313.3" r="6.4"/><circle cx="1722.2" cy="283.9" r="6.4"/><circle cx="1610.4" cy="318.6" r="6.4"/><circle cx="1610.4" cy="324" r="6.4"/><circle cx="1722.2" cy="416.5" r="6.4"/><circle cx="1610.4" cy="327.7" r="6.4"/><circle cx="1722.2" cy="360.6" r="6.4"/><circle cx="1610.4" cy="333.1" r="6.4"/><circle cx="1722.2" cy="308.6" r="6.4"/><circle cx="1610.4" cy="340.3" r="6.4"/><circle cx="1722.2" cy="397.7" r="6.4"/><circle cx="1610.4" cy="343.7" r="6.4"/><circle cx="1722.2" cy="312.6" r="6.4"/><circle cx="1610.4" cy="348.3" r="6.4"/><circle cx="1722.2" cy="390.8" r="6.4"/><circle cx="1610.4" cy="354.8" r="6.4"/><circle cx="1610.4" cy="358" r="6.4"/><circle cx="1722.2" cy="342.3" r="6.4"/><circle cx="1610.4" cy="364.4" r="6.4"/><circle cx="1610.4" cy="367.8" r="6.4"/><circle cx="1722.2" cy="379.9" r="6.4"/><circle cx="1610.4" cy="373.2" r="6.4"/><circle cx="1722.2" cy="346.3" r="6.4"/><circle cx="1610.4" cy="375.1" r="6.4"/><circle cx="1722.2" cy="369" r="6.4"/><circle cx="1610.4" cy="381.9" r="6.4"/><circle cx="1610.4" cy="387.2" r="6.4"/><circle cx="1610.4" cy="389.3" r="6.4"/><circle cx="1610.4" cy="397.4" r="6.4"/><circle cx="1610.4" cy="399.2" r="6.4"/><circle cx="1610.4" cy="405.1" r="6.4"/><circle cx="1610.4" cy="408.7" r="6.4"/>
</g>
</g>
<g id="panelE">
<text class="yt" transform="translate(91.2,827.3) rotate(-90)" font-size="38.4" text-anchor="middle" xml:space="preserve">LYM  <tspan dx="2.7">(10</tspan><tspan dy="-15.7" dx="1.3" font-size="32">9</tspan><tspan dy="15.7" dx="-4.5"> /L</tspan><tspan dx="0">)</tspan></text>
<text x="2" y="601" font-size="43" font-weight="bold">(E)</text>
<g class="ax">
<line x1="158.5" y1="645.2" x2="158.5" y2="1035.7"/>
<line x1="143.1" y1="645.2" x2="158.5" y2="645.2"/>
<line x1="143.1" y1="742.1" x2="158.5" y2="742.1"/>
<line x1="143.1" y1="841.3" x2="158.5" y2="841.3"/>
<line x1="143.1" y1="938.4" x2="158.5" y2="938.4"/>
<line x1="143.1" y1="1035.7" x2="158.5" y2="1035.7"/>
<line x1="142.6" y1="1035.7" x2="419.7" y2="1035.7"/>
<line x1="231.9" y1="1035.7" x2="231.9" y2="1051.1"/>
<line x1="343.8" y1="1035.7" x2="343.8" y2="1051.1"/>
</g>
<g class="tl" text-anchor="end">
<text x="136.5" y="656.7">4</text>
<text x="136.5" y="753.6">3</text>
<text x="136.5" y="852.8">2</text>
<text x="136.5" y="949.9">1</text>
<text x="136.5" y="1047.2">0</text>
</g>
<g class="xl">
<text x="194.5" y="1083.8">Free</text>
<text x="286.8" y="1083.8">Infection</text>
</g>
<path class="sb" d="M233.6 686V710M233.6 698H343M343 686V710"/>
<text class="st" transform="translate(287.2,691.6) scale(1,0.85)" text-anchor="middle">****</text>
<g class="d">
<path d="M232.4 719.3L344.3 904M232.4 742.1L344.3 1026M232.4 975L344.3 757.5M232.4 846.6L344.3 846.4M232.4 928L344.3 875M232.4 959L344.3 880M232.4 827.5L344.3 934M232.4 829L344.3 985M232.4 848.7L344.3 953.1M232.4 854.5L344.3 965.5M232.4 857.8L344.3 951.5M232.4 861.8L344.3 958.6M232.4 865L344.3 980.5M232.4 869.5L344.3 985.1M232.4 871.7L344.3 988.4M232.4 876.2L344.3 968.6M232.4 880.2L344.3 1018.2M232.4 884.5L344.3 1005.9M232.4 888.7L344.3 960.4M232.4 891.4L344.3 974.9M232.4 896.5L344.3 1024.4M232.4 898.8L344.3 977.2M232.4 903.9L344.3 1027.9M232.4 906.5L344.3 997.7M232.4 911.6L344.3 1020M232.4 913.5L344.3 1001.8M232.4 917.5L344.3 1032.9M232.4 923.2L344.3 1008.9M232.4 927.3L344.3 1014M232.4 929.1L344.3 993.2M232.4 931.6L344.3 947.3M232.4 934.4L344.3 938.8M232.4 936.6L344.3 959.8M232.4 937.2L344.3 945M232.4 939.2L344.3 969.5M232.4 942.5L344.3 956.9M232.4 943.5L344.3 957.7M232.4 945.2L344.3 955.3M232.4 947.1L344.3 980.9M232.4 949.3L344.3 963.5M232.4 950.6L344.3 952.6M232.4 953.8L344.3 983.6M232.4 955.6L344.3 997.6M232.4 957L344.3 964.9M232.4 959.5L344.3 977.9M232.4 961.5L344.3 1002.8M232.4 963.3L344.3 1003M232.4 964.7L344.3 985.8M232.4 967.1L344.3 996.7M232.4 968.4L344.3 1031.7M232.4 969.9L344.3 989.5M232.4 971.9L344.3 974.7M232.4 975L344.3 1022.9M232.4 976.5L344.3 1013.7M232.4 977.9L344.3 1023.7M232.4 980.6L344.3 1006.3M232.4 982.7L344.3 980.1M232.4 983.5L344.3 991M232.4 986.2L344.3 1007.1M232.4 988L344.3 994.7M232.4 989.7L344.3 1004.6M232.4 991.4L344.3 1019.3M232.4 993.7L344.3 1007.3M232.4 995.5L344.3 1012.1M232.4 997.6L344.3 1033.5M232.4 1000L344.3 1031.4M232.4 1001.3L344.3 1033.5M232.4 1003.9L344.3 1002.7M232.4 1004.4L344.3 1027.4M232.4 1006.8L344.3 1033.5M232.4 1009.8L344.3 1033.5M232.4 1011.2L344.3 1033.5M232.4 1000L344.3 926M232.4 990L344.3 930M232.4 1010L344.3 938M232.4 985L344.3 945M232.4 1015L344.3 950M232.4 970L344.3 935M232.4 1022L344.3 1010M232.4 1026.3L344.3 1016M232.4 1020L344.3 1000M232.4 1024L344.3 1022"/>
<circle cx="232.4" cy="719.3" r="6.4"/><circle cx="344.3" cy="904" r="6.4"/><circle cx="232.4" cy="742.1" r="6.4"/><circle cx="344.3" cy="1026" r="6.4"/><circle cx="232.4" cy="975" r="6.4"/><circle cx="344.3" cy="757.5" r="6.4"/><circle cx="232.4" cy="846.6" r="6.4"/><circle cx="344.3" cy="846.4" r="6.4"/><circle cx="232.4" cy="928" r="6.4"/><circle cx="344.3" cy="875" r="6.4"/><circle cx="232.4" cy="959" r="6.4"/><circle cx="344.3" cy="880" r="6.4"/><circle cx="232.4" cy="827.5" r="6.4"/><circle cx="344.3" cy="934" r="6.4"/><circle cx="232.4" cy="829" r="6.4"/><circle cx="344.3" cy="985" r="6.4"/><circle cx="232.4" cy="848.7" r="6.4"/><circle cx="344.3" cy="953.1" r="6.4"/><circle cx="232.4" cy="854.5" r="6.4"/><circle cx="344.3" cy="965.5" r="6.4"/><circle cx="232.4" cy="857.8" r="6.4"/><circle cx="344.3" cy="951.5" r="6.4"/><circle cx="232.4" cy="861.8" r="6.4"/><circle cx="344.3" cy="958.6" r="6.4"/><circle cx="232.4" cy="865" r="6.4"/><circle cx="344.3" cy="980.5" r="6.4"/><circle cx="232.4" cy="869.5" r="6.4"/><circle cx="344.3" cy="985.1" r="6.4"/><circle cx="232.4" cy="871.7" r="6.4"/><circle cx="344.3" cy="988.4" r="6.4"/><circle cx="232.4" cy="876.2" r="6.4"/><circle cx="344.3" cy="968.6" r="6.4"/><circle cx="232.4" cy="880.2" r="6.4"/><circle cx="344.3" cy="1018.2" r="6.4"/><circle cx="232.4" cy="884.5" r="6.4"/><circle cx="344.3" cy="1005.9" r="6.4"/><circle cx="232.4" cy="888.7" r="6.4"/><circle cx="344.3" cy="960.4" r="6.4"/><circle cx="232.4" cy="891.4" r="6.4"/><circle cx="344.3" cy="974.9" r="6.4"/><circle cx="232.4" cy="896.5" r="6.4"/><circle cx="344.3" cy="1024.4" r="6.4"/><circle cx="232.4" cy="898.8" r="6.4"/><circle cx="344.3" cy="977.2" r="6.4"/><circle cx="232.4" cy="903.9" r="6.4"/><circle cx="344.3" cy="1027.9" r="6.4"/><circle cx="232.4" cy="906.5" r="6.4"/><circle cx="344.3" cy="997.7" r="6.4"/><circle cx="232.4" cy="911.6" r="6.4"/><circle cx="344.3" cy="1020" r="6.4"/><circle cx="232.4" cy="913.5" r="6.4"/><circle cx="344.3" cy="1001.8" r="6.4"/><circle cx="232.4" cy="917.5" r="6.4"/><circle cx="344.3" cy="1032.9" r="6.4"/><circle cx="232.4" cy="923.2" r="6.4"/><circle cx="344.3" cy="1008.9" r="6.4"/><circle cx="232.4" cy="927.3" r="6.4"/><circle cx="344.3" cy="1014" r="6.4"/><circle cx="232.4" cy="929.1" r="6.4"/><circle cx="344.3" cy="993.2" r="6.4"/><circle cx="232.4" cy="931.6" r="6.4"/><circle cx="344.3" cy="947.3" r="6.4"/><circle cx="232.4" cy="934.4" r="6.4"/><circle cx="344.3" cy="938.8" r="6.4"/><circle cx="232.4" cy="936.6" r="6.4"/><circle cx="344.3" cy="959.8" r="6.4"/><circle cx="232.4" cy="937.2" r="6.4"/><circle cx="344.3" cy="945" r="6.4"/><circle cx="232.4" cy="939.2" r="6.4"/><circle cx="344.3" cy="969.5" r="6.4"/><circle cx="232.4" cy="942.5" r="6.4"/><circle cx="344.3" cy="956.9" r="6.4"/><circle cx="232.4" cy="943.5" r="6.4"/><circle cx="344.3" cy="957.7" r="6.4"/><circle cx="232.4" cy="945.2" r="6.4"/><circle cx="344.3" cy="955.3" r="6.4"/><circle cx="232.4" cy="947.1" r="6.4"/><circle cx="344.3" cy="980.9" r="6.4"/><circle cx="232.4" cy="949.3" r="6.4"/><circle cx="344.3" cy="963.5" r="6.4"/><circle cx="232.4" cy="950.6" r="6.4"/><circle cx="344.3" cy="952.6" r="6.4"/><circle cx="232.4" cy="953.8" r="6.4"/><circle cx="344.3" cy="983.6" r="6.4"/><circle cx="232.4" cy="955.6" r="6.4"/><circle cx="344.3" cy="997.6" r="6.4"/><circle cx="232.4" cy="957" r="6.4"/><circle cx="344.3" cy="964.9" r="6.4"/><circle cx="232.4" cy="959.5" r="6.4"/><circle cx="344.3" cy="977.9" r="6.4"/><circle cx="232.4" cy="961.5" r="6.4"/><circle cx="344.3" cy="1002.8" r="6.4"/><circle cx="232.4" cy="963.3" r="6.4"/><circle cx="344.3" cy="1003" r="6.4"/><circle cx="232.4" cy="964.7" r="6.4"/><circle cx="344.3" cy="985.8" r="6.4"/><circle cx="232.4" cy="967.1" r="6.4"/><circle cx="344.3" cy="996.7" r="6.4"/><circle cx="232.4" cy="968.4" r="6.4"/><circle cx="344.3" cy="1031.7" r="6.4"/><circle cx="232.4" cy="969.9" r="6.4"/><circle cx="344.3" cy="989.5" r="6.4"/><circle cx="232.4" cy="971.9" r="6.4"/><circle cx="344.3" cy="974.7" r="6.4"/><circle cx="344.3" cy="1022.9" r="6.4"/><circle cx="232.4" cy="976.5" r="6.4"/><circle cx="344.3" cy="1013.7" r="6.4"/><circle cx="232.4" cy="977.9" r="6.4"/><circle cx="344.3" cy="1023.7" r="6.4"/><circle cx="232.4" cy="980.6" r="6.4"/><circle cx="344.3" cy="1006.3" r="6.4"/><circle cx="232.4" cy="982.7" r="6.4"/><circle cx="344.3" cy="980.1" r="6.4"/><circle cx="232.4" cy="983.5" r="6.4"/><circle cx="344.3" cy="991" r="6.4"/><circle cx="232.4" cy="986.2" r="6.4"/><circle cx="344.3" cy="1007.1" r="6.4"/><circle cx="232.4" cy="988" r="6.4"/><circle cx="344.3" cy="994.7" r="6.4"/><circle cx="232.4" cy="989.7" r="6.4"/><circle cx="344.3" cy="1004.6" r="6.4"/><circle cx="232.4" cy="991.4" r="6.4"/><circle cx="344.3" cy="1019.3" r="6.4"/><circle cx="232.4" cy="993.7" r="6.4"/><circle cx="344.3" cy="1007.3" r="6.4"/><circle cx="232.4" cy="995.5" r="6.4"/><circle cx="344.3" cy="1012.1" r="6.4"/><circle cx="232.4" cy="997.6" r="6.4"/><circle cx="344.3" cy="1033.5" r="6.4"/><circle cx="232.4" cy="1000" r="6.4"/><circle cx="344.3" cy="1031.4" r="6.4"/><circle cx="232.4" cy="1001.3" r="6.4"/><circle cx="232.4" cy="1003.9" r="6.4"/><circle cx="344.3" cy="1002.7" r="6.4"/><circle cx="232.4" cy="1004.4" r="6.4"/><circle cx="344.3" cy="1027.4" r="6.4"/><circle cx="232.4" cy="1006.8" r="6.4"/><circle cx="232.4" cy="1009.8" r="6.4"/><circle cx="232.4" cy="1011.2" r="6.4"/><circle cx="344.3" cy="926" r="6.4"/><circle cx="232.4" cy="990" r="6.4"/><circle cx="344.3" cy="930" r="6.4"/><circle cx="232.4" cy="1010" r="6.4"/><circle cx="344.3" cy="938" r="6.4"/><circle cx="232.4" cy="985" r="6.4"/><circle cx="232.4" cy="1015" r="6.4"/><circle cx="344.3" cy="950" r="6.4"/><circle cx="232.4" cy="970" r="6.4"/><circle cx="344.3" cy="935" r="6.4"/><circle cx="232.4" cy="1022" r="6.4"/><circle cx="344.3" cy="1010" r="6.4"/><circle cx="232.4" cy="1026.3" r="6.4"/><circle cx="344.3" cy="1016" r="6.4"/><circle cx="232.4" cy="1020" r="6.4"/><circle cx="344.3" cy="1000" r="6.4"/><circle cx="232.4" cy="1024" r="6.4"/><circle cx="344.3" cy="1022" r="6.4"/>
</g>
</g>
<g id="panelF">
<text class="yt" transform="translate(512.7,821) rotate(-90)" font-size="38" text-anchor="middle" xml:space="preserve" word-spacing="4.7">PA (g/L)</text>
<text x="432" y="601" font-size="43" font-weight="bold">(F)</text>
<g class="ax">
<line x1="609.5" y1="642" x2="609.5" y2="1033"/>
<line x1="594.1" y1="642" x2="609.5" y2="642"/>
<line x1="594.1" y1="739.8" x2="609.5" y2="739.8"/>
<line x1="594.1" y1="837" x2="609.5" y2="837"/>
<line x1="594.1" y1="935.4" x2="609.5" y2="935.4"/>
<line x1="594.1" y1="1033" x2="609.5" y2="1033"/>
<line x1="594.4" y1="1033" x2="869.9" y2="1033"/>
<line x1="683.4" y1="1033" x2="683.4" y2="1048.4"/>
<line x1="795.1" y1="1033" x2="795.1" y2="1048.4"/>
</g>
<g class="tl" text-anchor="end">
<text x="589.6" y="653.5">0.4</text>
<text x="589.6" y="751.3">0.3</text>
<text x="589.6" y="848.5">0.2</text>
<text x="589.6" y="946.9">0.1</text>
<text x="589.6" y="1044.5">0.0</text>
</g>
<g class="xl">
<text x="646" y="1081.1">Free</text>
<text x="738.1" y="1081.1">Infection</text>
</g>
<path class="sb" d="M684.4 682.5V706.5M684.4 694.5H793.5M793.5 682.5V706.5"/>
<text class="st" transform="translate(743.4,694.2) scale(1,0.85)" text-anchor="middle">****</text>
<g class="d">
<path d="M683.5 731.6L795.3 766M683.5 769.5L795.3 731.6M683.5 934.2L795.3 957M683.5 1012.4L795.3 1031M683.5 875L795.3 1031M683.5 887L795.3 1028M683.5 893L795.3 1024.5M683.5 769.5L795.3 984.7M683.5 759.1L795.3 930M683.5 763.6L795.3 900M683.5 766L795.3 955M683.5 761L795.3 845M683.5 765L795.3 870M683.5 759.1L795.3 805M683.5 784.4L795.3 779.4M683.5 800L795.3 764M683.5 790L795.3 768.5M683.5 789L795.3 810.5M683.5 793L795.3 824.7M683.5 794.4L795.3 845.2M683.5 796.9L795.3 820.6M683.5 798.6L795.3 797M683.5 801.4L795.3 790.7M683.5 803.2L795.3 816.8M683.5 805.3L795.3 869M683.5 807.2L795.3 802M683.5 809.9L795.3 886.5M683.5 811.6L795.3 896.8M683.5 815.1L795.3 912.9M683.5 816.3L795.3 805.4M683.5 820L795.3 864.4M683.5 821.4L795.3 871.1M683.5 824.3L795.3 878.5M683.5 826.1L795.3 920.2M683.5 829.2L795.3 814.3M683.5 830.3L795.3 800.6M683.5 832.8L795.3 930M683.5 834.8L795.3 936.7M683.5 838L795.3 922.5M683.5 839.3L795.3 827.5M683.5 841.2L795.3 835.4M683.5 844.1L795.3 839.8M683.5 847L795.3 958.5M683.5 847.8L795.3 842.1M683.5 851.2L795.3 833.1M683.5 852.3L795.3 909.2M683.5 856L795.3 940M683.5 858.7L795.3 854.9M683.5 859.6L795.3 858M683.5 861.2L795.3 851.3M683.5 864.2L795.3 904M683.5 865.9L795.3 859.2M683.5 868.9L795.3 882.8M683.5 871.3L795.3 915.5M683.5 872.5L795.3 874.3M683.5 875.5L795.3 901.9M683.5 877L795.3 893.4M683.5 892.2L795.3 948M683.5 897.2L795.3 889.7M683.5 909L795.3 944.6M683.5 909.9L795.3 955M683.5 914.9L795.3 927.2M683.5 923.8L795.3 951.5"/>
<circle cx="683.5" cy="731.6" r="6.4"/><circle cx="795.3" cy="766" r="6.4"/><circle cx="683.5" cy="769.5" r="6.4"/><circle cx="795.3" cy="731.6" r="6.4"/><circle cx="683.5" cy="934.2" r="6.4"/><circle cx="795.3" cy="957" r="6.4"/><circle cx="683.5" cy="1012.4" r="6.4"/><circle cx="795.3" cy="1031" r="6.4"/><circle cx="683.5" cy="875" r="6.4"/><circle cx="683.5" cy="887" r="6.4"/><circle cx="795.3" cy="1028" r="6.4"/><circle cx="683.5" cy="893" r="6.4"/><circle cx="795.3" cy="1024.5" r="6.4"/><circle cx="795.3" cy="984.7" r="6.4"/><circle cx="683.5" cy="759.1" r="6.4"/><circle cx="795.3" cy="930" r="6.4"/><circle cx="683.5" cy="763.6" r="6.4"/><circle cx="795.3" cy="900" r="6.4"/><circle cx="683.5" cy="766" r="6.4"/><circle cx="795.3" cy="955" r="6.4"/><circle cx="683.5" cy="761" r="6.4"/><circle cx="795.3" cy="845" r="6.4"/><circle cx="683.5" cy="765" r="6.4"/><circle cx="795.3" cy="870" r="6.4"/><circle cx="795.3" cy="805" r="6.4"/><circle cx="683.5" cy="784.4" r="6.4"/><circle cx="795.3" cy="779.4" r="6.4"/><circle cx="683.5" cy="800" r="6.4"/><circle cx="795.3" cy="764" r="6.4"/><circle cx="683.5" cy="790" r="6.4"/><circle cx="795.3" cy="768.5" r="6.4"/><circle cx="683.5" cy="789" r="6.4"/><circle cx="795.3" cy="810.5" r="6.4"/><circle cx="683.5" cy="793" r="6.4"/><circle cx="795.3" cy="824.7" r="6.4"/><circle cx="683.5" cy="794.4" r="6.4"/><circle cx="795.3" cy="845.2" r="6.4"/><circle cx="683.5" cy="796.9" r="6.4"/><circle cx="795.3" cy="820.6" r="6.4"/><circle cx="683.5" cy="798.6" r="6.4"/><circle cx="795.3" cy="797" r="6.4"/><circle cx="683.5" cy="801.4" r="6.4"/><circle cx="795.3" cy="790.7" r="6.4"/><circle cx="683.5" cy="803.2" r="6.4"/><circle cx="795.3" cy="816.8" r="6.4"/><circle cx="683.5" cy="805.3" r="6.4"/><circle cx="795.3" cy="869" r="6.4"/><circle cx="683.5" cy="807.2" r="6.4"/><circle cx="795.3" cy="802" r="6.4"/><circle cx="683.5" cy="809.9" r="6.4"/><circle cx="795.3" cy="886.5" r="6.4"/><circle cx="683.5" cy="811.6" r="6.4"/><circle cx="795.3" cy="896.8" r="6.4"/><circle cx="683.5" cy="815.1" r="6.4"/><circle cx="795.3" cy="912.9" r="6.4"/><circle cx="683.5" cy="816.3" r="6.4"/><circle cx="795.3" cy="805.4" r="6.4"/><circle cx="683.5" cy="820" r="6.4"/><circle cx="795.3" cy="864.4" r="6.4"/><circle cx="683.5" cy="821.4" r="6.4"/><circle cx="795.3" cy="871.1" r="6.4"/><circle cx="683.5" cy="824.3" r="6.4"/><circle cx="795.3" cy="878.5" r="6.4"/><circle cx="683.5" cy="826.1" r="6.4"/><circle cx="795.3" cy="920.2" r="6.4"/><circle cx="683.5" cy="829.2" r="6.4"/><circle cx="795.3" cy="814.3" r="6.4"/><circle cx="683.5" cy="830.3" r="6.4"/><circle cx="795.3" cy="800.6" r="6.4"/><circle cx="683.5" cy="832.8" r="6.4"/><circle cx="683.5" cy="834.8" r="6.4"/><circle cx="795.3" cy="936.7" r="6.4"/><circle cx="683.5" cy="838" r="6.4"/><circle cx="795.3" cy="922.5" r="6.4"/><circle cx="683.5" cy="839.3" r="6.4"/><circle cx="795.3" cy="827.5" r="6.4"/><circle cx="683.5" cy="841.2" r="6.4"/><circle cx="795.3" cy="835.4" r="6.4"/><circle cx="683.5" cy="844.1" r="6.4"/><circle cx="795.3" cy="839.8" r="6.4"/><circle cx="683.5" cy="847" r="6.4"/><circle cx="795.3" cy="958.5" r="6.4"/><circle cx="683.5" cy="847.8" r="6.4"/><circle cx="795.3" cy="842.1" r="6.4"/><circle cx="683.5" cy="851.2" r="6.4"/><circle cx="795.3" cy="833.1" r="6.4"/><circle cx="683.5" cy="852.3" r="6.4"/><circle cx="795.3" cy="909.2" r="6.4"/><circle cx="683.5" cy="856" r="6.4"/><circle cx="795.3" cy="940" r="6.4"/><circle cx="683.5" cy="858.7" r="6.4"/><circle cx="795.3" cy="854.9" r="6.4"/><circle cx="683.5" cy="859.6" r="6.4"/><circle cx="795.3" cy="858" r="6.4"/><circle cx="683.5" cy="861.2" r="6.4"/><circle cx="795.3" cy="851.3" r="6.4"/><circle cx="683.5" cy="864.2" r="6.4"/><circle cx="795.3" cy="904" r="6.4"/><circle cx="683.5" cy="865.9" r="6.4"/><circle cx="795.3" cy="859.2" r="6.4"/><circle cx="683.5" cy="868.9" r="6.4"/><circle cx="795.3" cy="882.8" r="6.4"/><circle cx="683.5" cy="871.3" r="6.4"/><circle cx="795.3" cy="915.5" r="6.4"/><circle cx="683.5" cy="872.5" r="6.4"/><circle cx="795.3" cy="874.3" r="6.4"/><circle cx="683.5" cy="875.5" r="6.4"/><circle cx="795.3" cy="901.9" r="6.4"/><circle cx="683.5" cy="877" r="6.4"/><circle cx="795.3" cy="893.4" r="6.4"/><circle cx="683.5" cy="892.2" r="6.4"/><circle cx="795.3" cy="948" r="6.4"/><circle cx="683.5" cy="897.2" r="6.4"/><circle cx="795.3" cy="889.7" r="6.4"/><circle cx="683.5" cy="909" r="6.4"/><circle cx="795.3" cy="944.6" r="6.4"/><circle cx="683.5" cy="909.9" r="6.4"/><circle cx="683.5" cy="914.9" r="6.4"/><circle cx="795.3" cy="927.2" r="6.4"/><circle cx="683.5" cy="923.8" r="6.4"/><circle cx="795.3" cy="951.5" r="6.4"/>
</g>
</g>
<g id="panelG">
<text class="yt" transform="translate(988.4,831.6) rotate(-90)" font-size="38" text-anchor="middle" xml:space="preserve">NLR</text>
<text x="921" y="601" font-size="43" font-weight="bold">(G)</text>
<g class="ax">
<line x1="1072.9" y1="642" x2="1072.9" y2="822.8"/>
<line x1="1057.5" y1="642" x2="1072.9" y2="642"/>
<line x1="1057.5" y1="689.7" x2="1072.9" y2="689.7"/>
<line x1="1057.5" y1="736.3" x2="1072.9" y2="736.3"/>
<line x1="1057.5" y1="783.8" x2="1072.9" y2="783.8"/>
<line x1="1064.5" y1="822.8" x2="1081.3" y2="822.8"/>
<line x1="1072.9" y1="851.9" x2="1072.9" y2="1032.9"/>
<line x1="1057.5" y1="912.7" x2="1072.9" y2="912.7"/>
<line x1="1057.5" y1="973.1" x2="1072.9" y2="973.1"/>
<line x1="1057.5" y1="1032.9" x2="1072.9" y2="1032.9"/>
<line x1="1064.5" y1="851.9" x2="1081.3" y2="851.9"/>
<line x1="1057" y1="1032.9" x2="1333.4" y2="1032.9"/>
<line x1="1146.5" y1="1032.9" x2="1146.5" y2="1048.3"/>
<line x1="1258.4" y1="1032.9" x2="1258.4" y2="1048.3"/>
</g>
<g class="tl" text-anchor="end">
<text x="1049.9" y="653.5">80</text>
<text x="1049.9" y="701.2">60</text>
<text x="1049.9" y="747.8">40</text>
<text x="1049.9" y="795.3">20</text>
<text x="1045.6" y="924.2">2</text>
<text x="1045.6" y="984.6">1</text>
<text x="1045.6" y="1044.4">0</text>
</g>
<g class="xl">
<text x="1114.7" y="1081.1">Free</text>
<text x="1196.3" y="1081.1">Infection</text>
</g>
<path class="sb" d="M1144.3 632.1V656.1M1144.3 644.1H1257.9M1257.9 632.1V656.1"/>
<text class="st" transform="translate(1201.3,640.7) scale(1,0.85)" text-anchor="middle">*</text>
<g class="d">
<path d="M1146.7 672L1258.5 724M1146.7 897.5L1258.5 726.3M1146.7 960L1258.5 721.3M1146.7 990L1258.5 736.2M1146.7 864.8L1258.5 790.6M1146.7 870.7L1258.5 816M1146.7 891.5L1258.5 736.2M1146.7 891.5L1258.5 806M1146.7 917.3L1258.5 805.5M1146.7 941L1258.5 755M1146.7 758.3L1258.5 795M1146.7 768.7L1258.5 756M1146.7 779.6L1258.5 762M1146.7 788.5L1258.5 778.2M1146.7 796.5L1258.5 781.4M1146.7 806.3L1258.5 766M1146.7 807.8L1258.5 806.7M1146.7 809.4L1258.5 772.8M1146.7 810.7L1258.5 804.1M1146.7 812.6L1258.5 800.8M1146.7 814.3L1258.5 795.7M1146.7 816.5L1258.5 791.3M1146.7 818.3L1258.5 810.8M1146.7 819.7L1258.5 815M1146.7 821L1258.5 824.4M1146.7 823.1L1258.5 820.3M1146.7 986.2L1258.5 811.3M1146.7 987.7L1258.5 823.3M1146.7 992.8L1258.5 822.2M1146.7 997.4L1258.5 812.7M1146.7 1000.5L1258.5 803.9M1146.7 1004.8L1258.5 802.3M1146.7 1007.9L1258.5 814.9M1146.7 1011L1258.5 807M1146.7 1013.3L1258.5 819.6M1146.7 1017.3L1258.5 816.7M1146.7 1021.6L1258.5 808.3M1146.7 1024.5L1258.5 798.4M1146.7 1028.7L1258.5 800.2M1146.7 1032.3L1258.5 795.9M1146.7 1010.6L1258.5 922.2M1146.7 1013.6L1258.5 880.6M1146.7 1015.5L1258.5 893.5M1146.7 1018.2L1258.5 917.3M1146.7 1021.3L1258.5 927.2M1146.7 1023.3L1258.5 937M1146.7 1027L1258.5 945M1146.7 1030.6L1258.5 943M1146.7 1034.1L1258.5 952.9M1146.7 955L1258.5 917.3M1146.7 965L1258.5 927.2M1146.7 975L1258.5 943M1146.7 1003L1258.5 984.6M1146.7 1005L1258.5 993.5M1146.7 1001L1258.5 990M1146.7 1008L1258.5 984.6M1146.7 948L1258.5 880.6M1146.7 1012L1258.5 1006.2M1146.7 1014.9L1258.5 1010.4M1146.7 1017.3L1258.5 1013.9M1146.7 1019.2L1258.5 1019.1M1146.7 1020.7L1258.5 1015.7M1146.7 1024.2L1258.5 1023.6M1146.7 1026.8L1258.5 1030.4M1146.7 1028.4L1258.5 1028.3M1146.7 1030.4L1258.5 1022.2M1146.7 1033L1258.5 1032.3M1146.7 943.3L1258.5 824.2M1146.7 952.6L1258.5 810.1M1146.7 956.6L1258.5 819.5M1146.7 962.4L1258.5 798.9M1146.7 968.1L1258.5 817.8M1146.7 972.5L1258.5 812.2M1146.7 981.2L1258.5 802M1146.7 987.2L1258.5 804.3"/>
<circle cx="1146.7" cy="672" r="6.4"/><circle cx="1258.5" cy="724" r="6.4"/><circle cx="1146.7" cy="897.5" r="6.4"/><circle cx="1258.5" cy="726.3" r="6.4"/><circle cx="1146.7" cy="960" r="6.4"/><circle cx="1258.5" cy="721.3" r="6.4"/><circle cx="1146.7" cy="990" r="6.4"/><circle cx="1258.5" cy="736.2" r="6.4"/><circle cx="1146.7" cy="864.8" r="6.4"/><circle cx="1258.5" cy="790.6" r="6.4"/><circle cx="1146.7" cy="870.7" r="6.4"/><circle cx="1258.5" cy="816" r="6.4"/><circle cx="1146.7" cy="891.5" r="6.4"/><circle cx="1258.5" cy="806" r="6.4"/><circle cx="1146.7" cy="917.3" r="6.4"/><circle cx="1258.5" cy="805.5" r="6.4"/><circle cx="1146.7" cy="941" r="6.4"/><circle cx="1258.5" cy="755" r="6.4"/><circle cx="1146.7" cy="758.3" r="6.4"/><circle cx="1258.5" cy="795" r="6.4"/><circle cx="1146.7" cy="768.7" r="6.4"/><circle cx="1258.5" cy="756" r="6.4"/><circle cx="1146.7" cy="779.6" r="6.4"/><circle cx="1258.5" cy="762" r="6.4"/><circle cx="1146.7" cy="788.5" r="6.4"/><circle cx="1258.5" cy="778.2" r="6.4"/><circle cx="1146.7" cy="796.5" r="6.4"/><circle cx="1258.5" cy="781.4" r="6.4"/><circle cx="1146.7" cy="806.3" r="6.4"/><circle cx="1258.5" cy="766" r="6.4"/><circle cx="1146.7" cy="807.8" r="6.4"/><circle cx="1258.5" cy="806.7" r="6.4"/><circle cx="1146.7" cy="809.4" r="6.4"/><circle cx="1258.5" cy="772.8" r="6.4"/><circle cx="1146.7" cy="810.7" r="6.4"/><circle cx="1258.5" cy="804.1" r="6.4"/><circle cx="1146.7" cy="812.6" r="6.4"/><circle cx="1258.5" cy="800.8" r="6.4"/><circle cx="1146.7" cy="814.3" r="6.4"/><circle cx="1258.5" cy="795.7" r="6.4"/><circle cx="1146.7" cy="816.5" r="6.4"/><circle cx="1258.5" cy="791.3" r="6.4"/><circle cx="1146.7" cy="818.3" r="6.4"/><circle cx="1258.5" cy="810.8" r="6.4"/><circle cx="1146.7" cy="819.7" r="6.4"/><circle cx="1258.5" cy="815" r="6.4"/><circle cx="1146.7" cy="821" r="6.4"/><circle cx="1258.5" cy="824.4" r="6.4"/><circle cx="1146.7" cy="823.1" r="6.4"/><circle cx="1258.5" cy="820.3" r="6.4"/><circle cx="1146.7" cy="986.2" r="6.4"/><circle cx="1258.5" cy="811.3" r="6.4"/><circle cx="1146.7" cy="987.7" r="6.4"/><circle cx="1258.5" cy="823.3" r="6.4"/><circle cx="1146.7" cy="992.8" r="6.4"/><circle cx="1258.5" cy="822.2" r="6.4"/><circle cx="1146.7" cy="997.4" r="6.4"/><circle cx="1258.5" cy="812.7" r="6.4"/><circle cx="1146.7" cy="1000.5" r="6.4"/><circle cx="1258.5" cy="803.9" r="6.4"/><circle cx="1146.7" cy="1004.8" r="6.4"/><circle cx="1258.5" cy="802.3" r="6.4"/><circle cx="1146.7" cy="1007.9" r="6.4"/><circle cx="1258.5" cy="814.9" r="6.4"/><circle cx="1146.7" cy="1011" r="6.4"/><circle cx="1258.5" cy="807" r="6.4"/><circle cx="1146.7" cy="1013.3" r="6.4"/><circle cx="1258.5" cy="819.6" r="6.4"/><circle cx="1146.7" cy="1017.3" r="6.4"/><circle cx="1258.5" cy="816.7" r="6.4"/><circle cx="1146.7" cy="1021.6" r="6.4"/><circle cx="1258.5" cy="808.3" r="6.4"/><circle cx="1146.7" cy="1024.5" r="6.4"/><circle cx="1258.5" cy="798.4" r="6.4"/><circle cx="1146.7" cy="1028.7" r="6.4"/><circle cx="1258.5" cy="800.2" r="6.4"/><circle cx="1146.7" cy="1032.3" r="6.4"/><circle cx="1258.5" cy="795.9" r="6.4"/><circle cx="1146.7" cy="1010.6" r="6.4"/><circle cx="1258.5" cy="922.2" r="6.4"/><circle cx="1146.7" cy="1013.6" r="6.4"/><circle cx="1258.5" cy="880.6" r="6.4"/><circle cx="1146.7" cy="1015.5" r="6.4"/><circle cx="1258.5" cy="893.5" r="6.4"/><circle cx="1146.7" cy="1018.2" r="6.4"/><circle cx="1258.5" cy="917.3" r="6.4"/><circle cx="1146.7" cy="1021.3" r="6.4"/><circle cx="1258.5" cy="927.2" r="6.4"/><circle cx="1146.7" cy="1023.3" r="6.4"/><circle cx="1258.5" cy="937" r="6.4"/><circle cx="1146.7" cy="1027" r="6.4"/><circle cx="1258.5" cy="945" r="6.4"/><circle cx="1146.7" cy="1030.6" r="6.4"/><circle cx="1258.5" cy="943" r="6.4"/><circle cx="1146.7" cy="1034.1" r="6.4"/><circle cx="1258.5" cy="952.9" r="6.4"/><circle cx="1146.7" cy="955" r="6.4"/><circle cx="1146.7" cy="965" r="6.4"/><circle cx="1146.7" cy="975" r="6.4"/><circle cx="1146.7" cy="1003" r="6.4"/><circle cx="1258.5" cy="984.6" r="6.4"/><circle cx="1146.7" cy="1005" r="6.4"/><circle cx="1258.5" cy="993.5" r="6.4"/><circle cx="1146.7" cy="1001" r="6.4"/><circle cx="1258.5" cy="990" r="6.4"/><circle cx="1146.7" cy="1008" r="6.4"/><circle cx="1146.7" cy="948" r="6.4"/><circle cx="1146.7" cy="1012" r="6.4"/><circle cx="1258.5" cy="1006.2" r="6.4"/><circle cx="1146.7" cy="1014.9" r="6.4"/><circle cx="1258.5" cy="1010.4" r="6.4"/><circle cx="1258.5" cy="1013.9" r="6.4"/><circle cx="1146.7" cy="1019.2" r="6.4"/><circle cx="1258.5" cy="1019.1" r="6.4"/><circle cx="1146.7" cy="1020.7" r="6.4"/><circle cx="1258.5" cy="1015.7" r="6.4"/><circle cx="1146.7" cy="1024.2" r="6.4"/><circle cx="1258.5" cy="1023.6" r="6.4"/><circle cx="1146.7" cy="1026.8" r="6.4"/><circle cx="1258.5" cy="1030.4" r="6.4"/><circle cx="1146.7" cy="1028.4" r="6.4"/><circle cx="1258.5" cy="1028.3" r="6.4"/><circle cx="1146.7" cy="1030.4" r="6.4"/><circle cx="1258.5" cy="1022.2" r="6.4"/><circle cx="1146.7" cy="1033" r="6.4"/><circle cx="1258.5" cy="1032.3" r="6.4"/><circle cx="1146.7" cy="943.3" r="6.4"/><circle cx="1258.5" cy="824.2" r="6.4"/><circle cx="1146.7" cy="952.6" r="6.4"/><circle cx="1258.5" cy="810.1" r="6.4"/><circle cx="1146.7" cy="956.6" r="6.4"/><circle cx="1258.5" cy="819.5" r="6.4"/><circle cx="1146.7" cy="962.4" r="6.4"/><circle cx="1258.5" cy="798.9" r="6.4"/><circle cx="1146.7" cy="968.1" r="6.4"/><circle cx="1258.5" cy="817.8" r="6.4"/><circle cx="1146.7" cy="972.5" r="6.4"/><circle cx="1258.5" cy="812.2" r="6.4"/><circle cx="1146.7" cy="981.2" r="6.4"/><circle cx="1258.5" cy="802" r="6.4"/><circle cx="1146.7" cy="987.2" r="6.4"/><circle cx="1258.5" cy="804.3" r="6.4"/>
</g>
</g>
<g id="panelH">
<text class="yt" transform="translate(1472.6,832.3) rotate(-90)" font-size="38" text-anchor="middle" xml:space="preserve">Fg (g/L)</text>
<text x="1384.5" y="601" font-size="43" font-weight="bold">(H)</text>
<g class="ax">
<line x1="1541.4" y1="643.3" x2="1541.4" y2="1034"/>
<line x1="1526" y1="643.3" x2="1541.4" y2="643.3"/>
<line x1="1526" y1="773.5" x2="1541.4" y2="773.5"/>
<line x1="1526" y1="903.8" x2="1541.4" y2="903.8"/>
<line x1="1526" y1="1034" x2="1541.4" y2="1034"/>
<line x1="1526.1" y1="1034" x2="1802.4" y2="1034"/>
<line x1="1615.2" y1="1034" x2="1615.2" y2="1049.4"/>
<line x1="1726.9" y1="1034" x2="1726.9" y2="1049.4"/>
</g>
<g class="tl" text-anchor="end">
<text x="1519.6" y="654.8">6</text>
<text x="1519.6" y="785">4</text>
<text x="1519.6" y="915.3">2</text>
<text x="1519.6" y="1045.5">0</text>
</g>
<g class="xl">
<text x="1577.8" y="1082.1">Free</text>
<text x="1669.9" y="1082.1">Infection</text>
</g>
<path class="sb" d="M1614.4 652.7V676.7M1614.4 664.7H1723.4M1723.4 652.7V676.7"/>
<text class="st" transform="translate(1669.7,661.7) scale(1,0.85)" text-anchor="middle">*</text>
<g class="d">
<path d="M1615.2 874L1727.4 698.6M1615.2 828.6L1727.4 752.8M1615.2 833.6L1727.4 794M1615.2 879.2L1727.4 794M1615.2 885.1L1727.4 803.4M1615.2 846.5L1727.4 829.6M1615.2 880L1727.4 824.7M1615.2 885L1727.4 829.6M1615.2 888L1727.4 835.6M1615.2 852.4L1727.4 861.3M1615.2 848L1727.4 891M1615.2 867.3L1727.4 875.2M1615.2 885.1L1727.4 872.2M1615.2 902.5L1727.4 872.2M1615.2 902.5L1727.4 879.2M1615.2 874.2L1727.4 879.2"/>
<circle cx="1615.2" cy="874" r="6.4"/><circle cx="1727.4" cy="698.6" r="6.4"/><circle cx="1615.2" cy="828.6" r="6.4"/><circle cx="1727.4" cy="752.8" r="6.4"/><circle cx="1615.2" cy="833.6" r="6.4"/><circle cx="1727.4" cy="794" r="6.4"/><circle cx="1615.2" cy="879.2" r="6.4"/><circle cx="1615.2" cy="885.1" r="6.4"/><circle cx="1727.4" cy="803.4" r="6.4"/><circle cx="1615.2" cy="846.5" r="6.4"/><circle cx="1727.4" cy="829.6" r="6.4"/><circle cx="1615.2" cy="880" r="6.4"/><circle cx="1727.4" cy="824.7" r="6.4"/><circle cx="1615.2" cy="885" r="6.4"/><circle cx="1615.2" cy="888" r="6.4"/><circle cx="1727.4" cy="835.6" r="6.4"/><circle cx="1615.2" cy="852.4" r="6.4"/><circle cx="1727.4" cy="861.3" r="6.4"/><circle cx="1615.2" cy="848" r="6.4"/><circle cx="1727.4" cy="891" r="6.4"/><circle cx="1615.2" cy="867.3" r="6.4"/><circle cx="1727.4" cy="875.2" r="6.4"/><circle cx="1727.4" cy="872.2" r="6.4"/><circle cx="1615.2" cy="902.5" r="6.4"/><circle cx="1727.4" cy="879.2" r="6.4"/><circle cx="1615.2" cy="874.2" r="6.4"/>
</g>
</g>
</svg>
</body></html>
